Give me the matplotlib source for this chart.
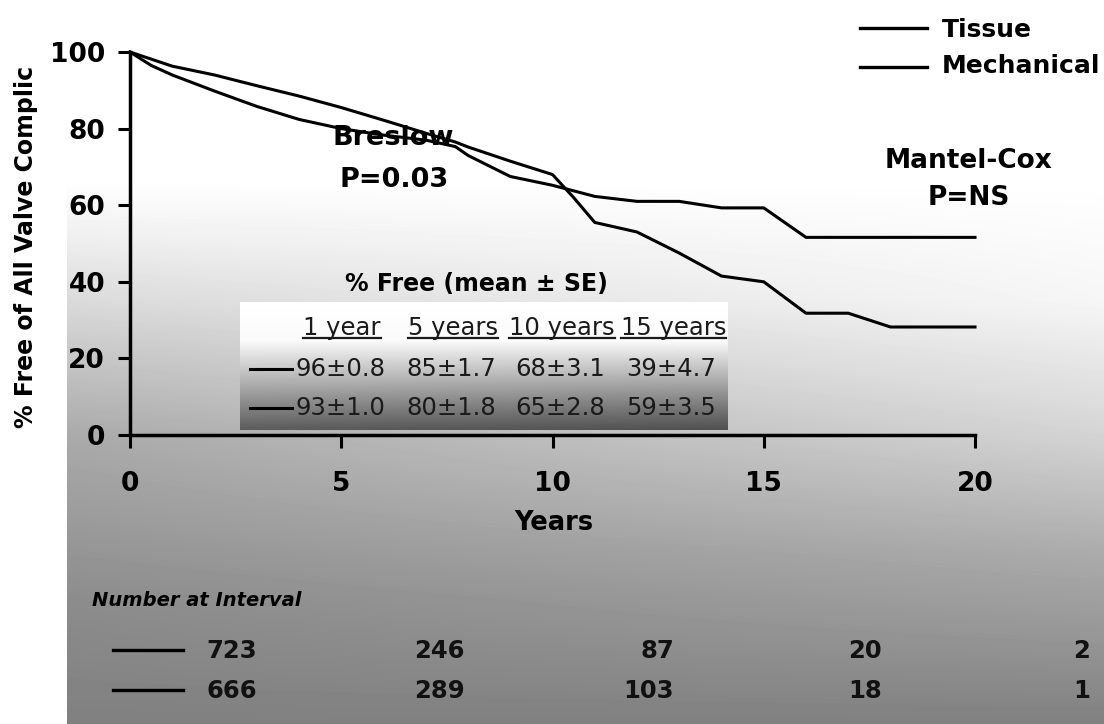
import numpy as np
import matplotlib
matplotlib.use("Agg")
import matplotlib.pyplot as plt
from matplotlib.lines import Line2D

# ---------------- data ----------------
tissue_years = [0, 1, 2, 3, 4, 5, 6, 7, 7.7, 8, 9, 10, 10.5, 11, 12, 13, 14, 15, 16, 17, 18, 20]
tissue_free = [100, 96.3, 94, 91.2, 88.5, 85.5, 82.2, 78.8, 76.5, 75.2, 71.5, 68, 62, 55.5, 53, 47.5, 41.5, 40, 31.8, 31.8, 28.2, 28.2]

mech_years = [0, 0.5, 1, 2, 3, 4, 5, 6, 7, 7.7, 8, 9, 10, 11, 12, 13, 14, 15, 16, 20]
mech_free = [100, 96.5, 94, 89.8, 85.8, 82.4, 80, 78.3, 77, 75.3, 73, 67.5, 65.2, 62.3, 61, 61, 59.3, 59.3, 51.6, 51.6]

series_names = ["Tissue", "Mechanical"]
x_ticks = [0, 5, 10, 15, 20]
y_ticks = [0, 20, 40, 60, 80, 100]

table_title = "% Free (mean ± SE)"
table_headers = ["1 year", "5 years", "10 years", "15 years"]
tissue_table = ["96±0.8", "85±1.7", "68±3.1", "39±4.7"]
mech_table = ["93±1.0", "80±1.8", "65±2.8", "59±3.5"]

risk_title = "Number at Interval"
tissue_at_risk = [723, 246, 87, 20, 2]
mech_at_risk = [666, 289, 103, 18, 1]

# ---------------- figure ----------------
plt.rcParams['font.family'] = ['DejaVu Sans']
plt.rcParams['font.weight'] = 'bold'

W, H = 1104, 724
fig = plt.figure(figsize=(W / 100, H / 100), dpi=100)


def fx(px):
    return px / W


def fy(py):
    return 1 - py / H


# background gradient
bg = fig.add_axes([0, 0, 1, 1], zorder=-10)
xs = np.arange(W)
ys = np.arange(H)
L = np.interp(ys, [0, 180, 240, 300, 435, 600, 724], [255, 255, 238, 218, 170, 140, 128])
R = np.interp(ys, [0, 180, 300, 435, 550, 724], [255, 255, 246, 212, 172, 128])
s = np.clip((xs - 67) / (W - 67), 0, 1)
img = L[:, None] * (1 - s[None, :]) + R[:, None] * s[None, :]
img[:, xs < 67] = 255
bg.imshow(img, cmap='gray', vmin=0, vmax=255, extent=[0, W, H, 0],
          aspect='auto', interpolation='bilinear')
bg.set_xlim(0, W)
bg.set_ylim(H, 0)
bg.axis('off')

# main axes
ax = fig.add_axes([fx(130), fy(435), (975 - 130) / W, (435 - 52) / H])
ax.set_facecolor('none')
ax.plot(tissue_years, tissue_free, color='black', lw=2.2, clip_on=False, zorder=5)
ax.plot(mech_years, mech_free, color='black', lw=2.2, clip_on=False, zorder=5)
ax.set_xlim(0, 20)
ax.set_ylim(0, 100)
ax.set_xticks(x_ticks)
ax.set_yticks(y_ticks)
for side in ['top', 'right']:
    ax.spines[side].set_visible(False)
for side in ['left', 'bottom']:
    ax.spines[side].set_linewidth(2.5)
    ax.spines[side].set_color('black')
ax.tick_params(axis='both', direction='out', length=9, width=2.2, labelsize=19, colors='black')
ax.tick_params(axis='x', pad=17)
ax.tick_params(axis='y', pad=9)
for lab in ax.get_xticklabels() + ax.get_yticklabels():
    lab.set_fontweight('bold')

ax.text(6.22, 77.5, "Breslow", ha='center', va='center', fontsize=19.5, zorder=2)
ax.text(6.25, 66.5, "P=0.03", ha='center', va='center', fontsize=19.5, zorder=2)
ax.text(19.85, 71.5, "Mantel-Cox", ha='center', va='center', fontsize=19, zorder=2, clip_on=False)
ax.text(19.85, 61.8, "P=NS", ha='center', va='center', fontsize=19, zorder=2, clip_on=False)

# axis labels
fig.text(fx(26), fy(247), "% Free of All Valve Complic", rotation=90,
         ha='center', va='center', fontsize=17)
fig.text(fx(554), fy(523), "Years", ha='center', va='center', fontsize=18.5)

# legend (top right)
for py_line, py_txt, name in [(28, 30, series_names[0]), (67, 66, series_names[1])]:
    fig.add_artist(Line2D([fx(860), fx(927)], [fy(py_line), fy(py_line)],
                          color='black', lw=2.4))
    fig.text(fx(942), fy(py_txt), name, ha='left', va='center', fontsize=18)

# summary table
fig.text(fx(476), fy(284), table_title, ha='center', va='center', fontsize=17)
tab = fig.add_axes([fx(240), fy(430), 488 / W, 128 / H], zorder=3)
t = np.linspace(0, 1, 128)
col = np.interp(t, [0, 0.3, 1.0], [255, 250, 92])
xx = np.linspace(0, 1, 488)
timg = col[:, None] - 30 * xx[None, :] * np.clip((t[:, None] - 0.3) / 0.7, 0, 1) * (1 - t[:, None] * 0.6)
tab.imshow(timg, cmap='gray', vmin=0, vmax=255, extent=[0, 1, 0, 1], aspect='auto',
           interpolation='bilinear')
tab.set_xlim(0, 1)
tab.set_ylim(0, 1)
tab.axis('off')

col_x = [0.209, 0.436, 0.660, 0.888]
hdr_texts = []
for cx, h in zip(col_x, table_headers):
    hdr_texts.append(tab.text(cx, 0.80, h, ha='center', va='center', fontsize=17.5,
                              fontweight='normal', color='#1a1a1a'))
for cx, v in zip(col_x, tissue_table):
    tab.text(cx - 0.004, 0.477, v, ha='center', va='center', fontsize=17.5,
             fontweight='normal', color='#1a1a1a')
for cx, v in zip(col_x, mech_table):
    tab.text(cx - 0.004, 0.172, v, ha='center', va='center', fontsize=17.5,
             fontweight='normal', color='#1a1a1a')
tab.plot([0.02, 0.107], [0.477, 0.477], color='black', lw=2.2)
tab.plot([0.02, 0.107], [0.172, 0.172], color='black', lw=2.2)

renderer = fig.canvas.get_renderer()
inv = tab.transAxes.inverted()
for ht in hdr_texts:
    bb = ht.get_window_extent(renderer)
    (x0, _), (x1, _) = inv.transform([[bb.x0, bb.y0], [bb.x1, bb.y1]])
    tab.plot([x0, x1], [0.715, 0.715], color='#1a1a1a', lw=1.6)

# number at interval
fig.text(fx(92), fy(600), risk_title, ha='left', va='center', fontsize=14, style='italic')
col_right = [257, 465, 674, 882, 1090]
for py, row in [(651, tissue_at_risk), (691, mech_at_risk)]:
    fig.add_artist(Line2D([fx(113), fx(183)], [fy(py - 1), fy(py - 1)], color='black', lw=2.4))
    for cx, n in zip(col_right, row):
        fig.text(fx(cx), fy(py), str(n), ha='right', va='center', fontsize=17.5, color='#111111')

fig.savefig("out.png", dpi=100)
